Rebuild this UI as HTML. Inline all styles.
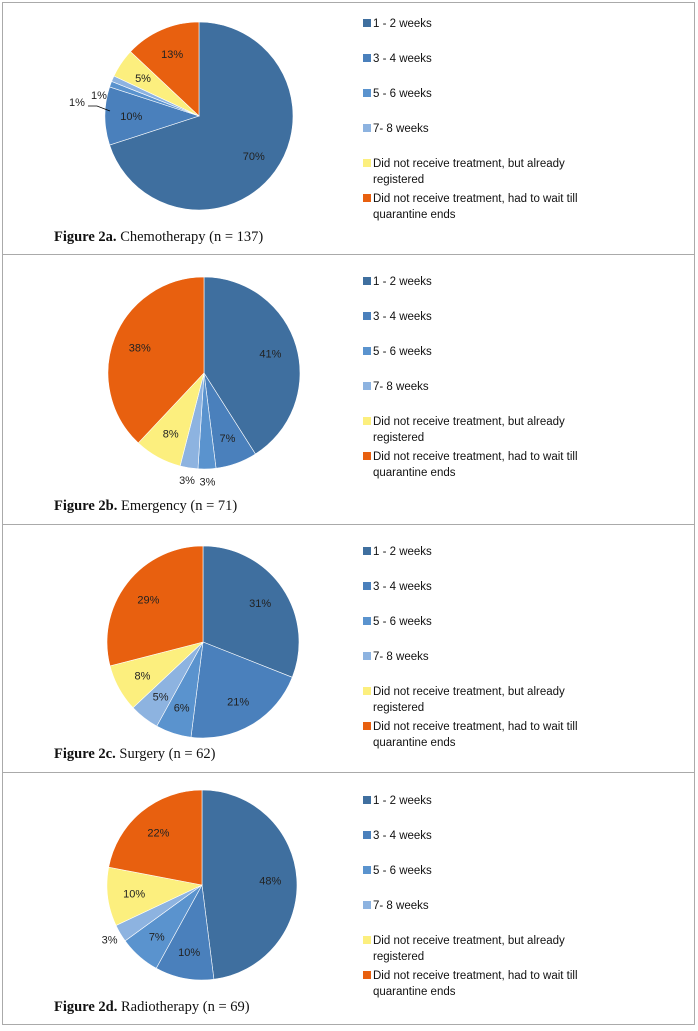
<!DOCTYPE html>
<html><head><meta charset="utf-8">
<style>
html,body{margin:0;padding:0;background:#fff;}
body{width:698px;height:1031px;position:relative;overflow:hidden;font-family:"Liberation Sans",sans-serif;}
svg{position:absolute;left:0;top:0;}
</style></head>
<body>
<svg id="chart" width="698" height="1031" xmlns="http://www.w3.org/2000/svg"></svg>
<script>
const categories = ["1 - 2 weeks","3 - 4 weeks","5 - 6 weeks","7- 8 weeks","Did not receive treatment, but already registered","Did not receive treatment, had to wait till quarantine ends"];
const chemoValues = [70,10,1,1,5,13];
const emergencyValues = [41,7,3,3,8,38];
const surgeryValues = [31,21,6,5,8,29];
const radioValues = [48,10,7,3,10,22];
const captionsBold = ["Figure 2a.","Figure 2b.","Figure 2c.","Figure 2d."];
const captionsText = [" Chemotherapy (n = 137)"," Emergency (n = 71)"," Surgery (n = 62)"," Radiotherapy (n = 69)"];
const colors = ["#3F6F9F","#4A80BC","#5A93CE","#8DB3E0","#FCEF7E","#E8600F"];

const svg = document.getElementById('chart');
const NS = "http://www.w3.org/2000/svg";
function mk(tag, attrs, parent){ const e=document.createElementNS(NS,tag); for(const k in attrs) e.setAttribute(k,attrs[k]); (parent||svg).appendChild(e); return e; }

const panels = [
 {top:2, bottom:254, cx:199, cy:116, r:94, legY:23, capY:241, vals:chemoValues},
 {top:254, bottom:524, cx:204, cy:373, r:96, legY:281, capY:510, vals:emergencyValues},
 {top:524, bottom:772, cx:203, cy:642, r:96, legY:551, capY:758, vals:surgeryValues},
 {top:772, bottom:1025, cx:202, cy:885, r:95, legY:800, capY:1011, vals:radioValues}
];
const frame = mk('rect',{x:2.5,y:2.5,width:692,height:1022,fill:'none',stroke:'#aaa','stroke-width':1});



panels.forEach((p,pi)=>{
  const g = mk('g',{});
  
  
  if(pi>0){ const l=mk('line',{x1:2,x2:695,y1:p.top+0.5,y2:p.top+0.5,stroke:'#aaa'},g);
    
     }
  const total = p.vals.reduce((a,b)=>a+b,0);
  let a0 = -Math.PI/2;
  p.vals.forEach((v,i)=>{
    const a1 = a0 + v/total*2*Math.PI;
    const x0=p.cx+p.r*Math.cos(a0), y0=p.cy+p.r*Math.sin(a0);
    const x1=p.cx+p.r*Math.cos(a1), y1=p.cy+p.r*Math.sin(a1);
    const large = (a1-a0)>Math.PI?1:0;
    const path = mk('path',{d:`M${p.cx},${p.cy} L${x0},${y0} A${p.r},${p.r} 0 ${large} 1 ${x1},${y1} Z`,fill:colors[i],stroke:'#fff','stroke-width':0.6},g);
    
    
    const am=(a0+a1)/2;
    let rr = v<4 ? p.r*1.13 : p.r*0.72;
    let lx=p.cx+rr*Math.cos(am), ly=p.cy+rr*Math.sin(am);
    if(pi===0 && i===2){ lx=p.cx-122; ly=p.cy-14;
      const ld = mk('path',{d:`M${p.cx-111},${p.cy-10} L${p.cx-102},${p.cy-10} L${p.cx-89},${p.cy-5}`,fill:'none',stroke:'#000','stroke-width':0.8},g);
      
       }
    if(pi===0 && i===3){ lx=p.cx-100; ly=p.cy-21; }
    const t = mk('text',{x:lx,y:ly+4,'text-anchor':'middle','font-size':11,fill:'#222'},g);
    t.textContent = v+'%';
    
    
    a0=a1;
  });
  let y = p.legY;
  categories.forEach((c,i)=>{
    const sw = mk('rect',{x:363,y:y-4,width:8,height:8,fill:colors[i]},g);
    
    
    const lines = i===4 ? ["Did not receive treatment, but already","registered"] : i===5 ? ["Did not receive treatment, had to wait till","quarantine ends"] : [c];
    lines.forEach((ln,k)=>{
      const t = mk('text',{x:373,y:y+4+k*16,'font-size':11.5,fill:'#111'},g);
      t.textContent=ln;
      
      
    });
    y += 35;
  });
  const cap = mk('text',{x:54,y:p.capY,'font-size':14.5,'font-family':'"Liberation Serif",serif',fill:'#111'},g);
  
  
  const b = mk('tspan',{'font-weight':'bold'},cap); b.textContent=captionsBold[pi];
  const tt = mk('tspan',{},cap); tt.textContent=captionsText[pi];
});
</script>
</body></html>
